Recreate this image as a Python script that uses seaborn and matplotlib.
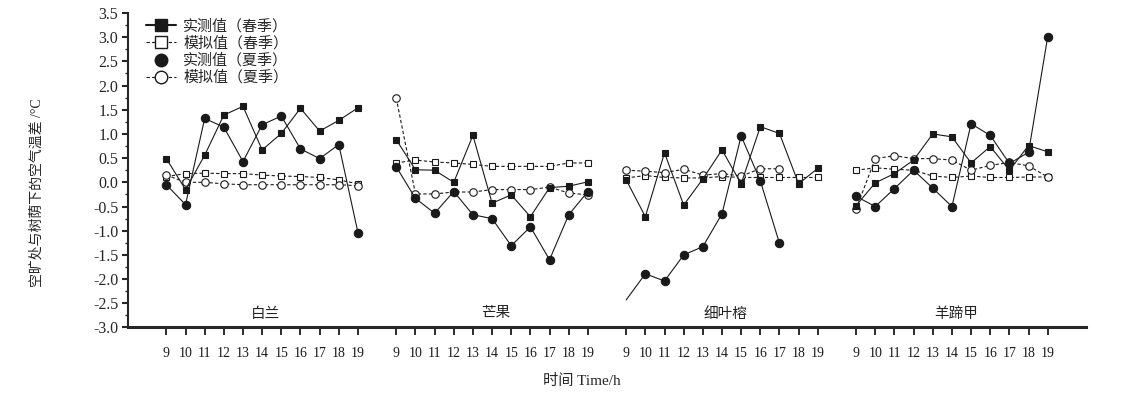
import numpy as np
import pandas as pd
import matplotlib
matplotlib.use("Agg")
import matplotlib.pyplot as plt
import seaborn as sns
from matplotlib.lines import Line2D
from matplotlib.ticker import MultipleLocator, FormatStrFormatter

# ---------------- data ----------------
hours = [9, 10, 11, 12, 13, 14, 15, 16, 17, 18, 19]
species = ["白兰", "芒果", "细叶榕", "羊蹄甲"]

meas_spring = {
    "白兰": [0.49, -0.15, 0.56, 1.39, 1.57, 0.67, 1.01, 1.53, 1.06, 1.28, 1.54],
    "芒果": [0.88, 0.26, 0.25, 0.00, 0.97, -0.43, -0.26, -0.71, -0.11, -0.08, 0.01],
    "细叶榕": [0.05, -0.71, 0.61, -0.47, 0.07, 0.67, -0.03, 1.15, 1.01, -0.03, 0.29],
    "羊蹄甲": [-0.48, -0.01, 0.18, 0.46, 1.00, 0.94, 0.40, 0.74, 0.25, 0.76, 0.63],
}
sim_spring = {
    "白兰": [0.12, 0.18, 0.19, 0.18, 0.18, 0.15, 0.13, 0.12, 0.10, 0.05, -0.03],
    "芒果": [0.40, 0.46, 0.42, 0.40, 0.37, 0.33, 0.33, 0.33, 0.33, 0.40, 0.40],
    "细叶榕": [0.09, 0.14, 0.10, 0.09, 0.09, 0.12, 0.10, 0.10, 0.10, 0.10, 0.10],
    "羊蹄甲": [0.25, 0.30, 0.27, 0.25, 0.13, 0.10, 0.13, 0.10, 0.10, 0.11, 0.11],
}
meas_summer = {
    "白兰": [-0.05, -0.46, 1.32, 1.14, 0.43, 1.19, 1.37, 0.69, 0.49, 0.78, -1.04],
    "芒果": [0.32, -0.33, -0.64, -0.19, -0.67, -0.75, -1.31, -0.92, -1.60, -0.67, -0.19],
    "细叶榕": [-2.43, -1.89, -2.04, -1.50, -1.33, -0.65, 0.96, 0.03, -1.26, np.nan, np.nan],
    "羊蹄甲": [-0.29, -0.50, -0.13, 0.25, -0.12, -0.50, 1.21, 0.97, 0.39, 0.62, 3.01],
}
sim_summer = {
    "白兰": [0.15, 0.00, 0.00, -0.03, -0.05, -0.05, -0.05, -0.05, -0.05, -0.05, -0.07],
    "芒果": [1.74, -0.24, -0.24, -0.20, -0.20, -0.15, -0.15, -0.15, -0.10, -0.22, -0.26],
    "细叶榕": [0.25, 0.23, 0.20, 0.27, 0.15, 0.18, 0.13, 0.28, 0.28, np.nan, np.nan],
    "羊蹄甲": [-0.55, 0.49, 0.55, 0.49, 0.49, 0.46, 0.25, 0.35, 0.41, 0.34, 0.11],
}

series_names = ["实测值（春季）", "模拟值（春季）", "实测值（夏季）", "模拟值（夏季）"]
series_data = [meas_spring, sim_spring, meas_summer, sim_summer]

rows = []
for g, sp in enumerate(species):
    for sname, sdata in zip(series_names, series_data):
        for i, h in enumerate(hours):
            rows.append(dict(species=sp, group=g, hour=h, pos=g * 12 + (h - 9),
                             series=sname, value=sdata[sp][i]))
df = pd.DataFrame(rows)

# ---------------- style ----------------
sns.set_theme(style="ticks")
plt.rcParams["font.family"] = ["Liberation Serif", "Noto Sans CJK SC", "DejaVu Sans"]
plt.rcParams["axes.unicode_minus"] = False

fig = plt.figure(figsize=(11.32, 3.93), dpi=100)
ax = fig.add_axes([0.1131, 0.1667, 0.8463, 0.8003])

dash = (0, (3, 2))
styles = {
    "实测值（春季）": dict(marker="s", ms=4.6, mfc="k", mec="k", ls="-", lw=0.8, zorder=4),
    "模拟值（春季）": dict(marker="s", ms=4.8, mfc="white", mec="k", ls=dash, lw=0.8, zorder=3),
    "实测值（夏季）": dict(marker="o", ms=6.0, mfc="k", mec="k", ls="-", lw=0.8, zorder=4),
    "模拟值（夏季）": dict(marker="o", ms=5.4, mfc="white", mec="k", ls=dash, lw=0.8, zorder=3),
}

for g, sp in enumerate(species):
    for sname in series_names:
        sub = df[(df.species == sp) & (df.series == sname)].dropna()
        kw = dict(styles[sname])
        if sp == "细叶榕" and sname == "实测值（夏季）":
            kw["markevery"] = list(range(1, len(sub)))
        sns.lineplot(data=sub, x="pos", y="value", ax=ax, color="k",
                     errorbar=None, mew=0.8, **kw)

# group labels
for g, sp in enumerate(species):
    ax.text(g * 12 + 5.2, -2.72, sp, ha="center", va="center", fontsize=10.5,
            color="#222222")

# axes
ax.set_xlim(-2, 48)
ax.set_ylim(-3.0, 3.5)
positions = [g * 12 + (h - 9) for g in range(len(species)) for h in hours]
ax.set_xticks(positions)
ax.set_xticklabels([str(h) for _ in species for h in hours])
ax.yaxis.set_major_locator(MultipleLocator(0.5))
ax.yaxis.set_minor_locator(MultipleLocator(0.25))
ax.yaxis.set_major_formatter(FormatStrFormatter("%.1f"))

for s in ["top", "right"]:
    ax.spines[s].set_visible(False)
ax.spines["left"].set_linewidth(1.5)
ax.spines["bottom"].set_linewidth(2.2)

ax.tick_params(axis="x", direction="out", length=6, width=1.3, pad=8,
               labelsize=10, colors="k")
ax.tick_params(axis="y", which="major", direction="out", length=4, width=1.5,
               pad=3, labelsize=11.5)
ax.tick_params(axis="y", which="minor", direction="out", length=2.5, width=1)

ax.set_xlabel("")
ax.set_ylabel("空旷处与树荫下的空气温差 /°C", fontsize=10)
ax.yaxis.set_label_coords(-0.088, 0.43)
fig.text(582 / 1132, 1 - 381 / 393, "时间 Time/h", ha="center", va="center",
         fontsize=11)

# legend
handles = [
    Line2D([], [], color="k", marker="s", ms=8, mfc="k", mec="k", ls="-", lw=1.5),
    Line2D([], [], color="k", marker="s", ms=9, mfc="white", mec="k", ls=dash, lw=0.8),
    Line2D([], [], color="k", marker="o", ms=9, mfc="k", mec="k", ls="none"),
    Line2D([], [], color="k", marker="o", ms=9, mfc="white", mec="k", ls=dash, lw=0.8),
]
ax.legend(handles, series_names, loc="upper left", bbox_to_anchor=(0.012, 1.0),
          frameon=False, handlelength=2.0, handletextpad=0.5, labelspacing=0.18,
          fontsize=10.8, borderaxespad=0)

fig.savefig("out.png", dpi=100)
